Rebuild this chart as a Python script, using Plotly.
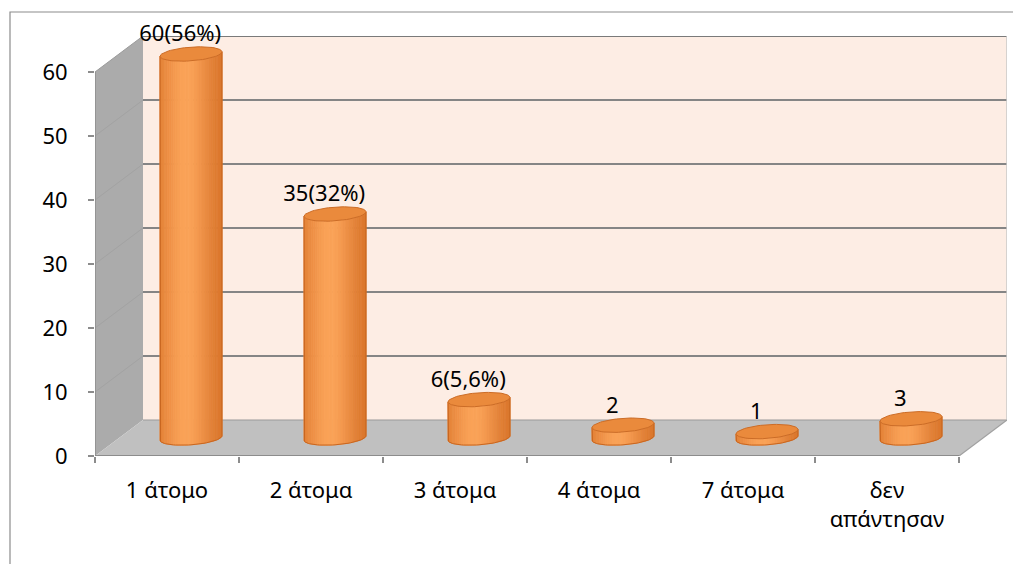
import numpy as np
import plotly.graph_objects as go

# ---------------- data ----------------
categories = ["1 άτομο", "2 άτομα", "3 άτομα", "4 άτομα", "7 άτομα", "δεν<br>απάντησαν"]
values = [60, 35, 6, 2, 1, 3]
value_labels = ["60(56%)", "35(32%)", "6(5,6%)", "2", "1", "3"]
y_ticks = [0, 10, 20, 30, 40, 50, 60]

# ---------------- 3D-look parameters ----------------
n = len(categories)
ymax = y_ticks[-1]
depth_x = 1 / 3        # depth offset in category units
depth_y = 5.625        # depth offset in value units
cyl_r = 0.204          # cylinder radius (category units)
cyl_depth = 0.2        # cylinder radius as fraction of the depth vector
NS = 36                # shading slices per cylinder

FONT = "Noto Sans"
FS = 22
x_lo, x_hi = -0.5, n - 0.5

fig = go.Figure()


def poly(xs, ys, fill, line_color=None, width=0):
    fig.add_trace(go.Scatter(
        x=list(xs) + [xs[0]], y=list(ys) + [ys[0]], mode="lines", fill="toself",
        fillcolor=fill, line=dict(color=line_color or fill, width=width),
        hoverinfo="skip", showlegend=False))


def lines(xs, ys, color, width):
    fig.add_trace(go.Scatter(x=xs, y=ys, mode="lines", line=dict(color=color, width=width),
                             hoverinfo="skip", showlegend=False))


# back wall
poly([x_lo + depth_x, x_hi + depth_x, x_hi + depth_x, x_lo + depth_x],
     [depth_y, depth_y, ymax + depth_y, ymax + depth_y], "#fdede4")
# side wall
poly([x_lo, x_lo, x_lo + depth_x, x_lo + depth_x],
     [0, ymax, ymax + depth_y, depth_y], "#ababab")
# faint diagonals on side wall
gx, gy = [], []
for t in y_ticks[1:-1]:
    gx += [x_lo, x_lo + depth_x, None]
    gy += [t, t + depth_y, None]
lines(gx, gy, "#a2a2a2", 1)
# floor
poly([x_lo, x_hi, x_hi + depth_x, x_lo + depth_x],
     [0, 0, depth_y, depth_y], "#c0c0c0")
# back gridlines
gx, gy = [], []
for t in y_ticks[1:-1]:
    gx += [x_lo + depth_x, x_hi + depth_x, None]
    gy += [t + depth_y, t + depth_y, None]
lines(gx, gy, "#858585", 1.8)
# back-wall / floor junction
lines([x_lo + depth_x, x_hi + depth_x], [depth_y, depth_y], "#9a9a9a", 1.2)
# top edge of back wall
lines([x_lo + depth_x, x_hi + depth_x], [ymax + depth_y, ymax + depth_y], "#7a7a7a", 2.2)
# right edge of back wall
lines([x_hi + depth_x, x_hi + depth_x], [depth_y, ymax + depth_y], "#c8c8c8", 1.5)
# floor right edge
lines([x_hi, x_hi + depth_x], [0, depth_y], "#a0a0a0", 1.2)
# side wall top edge
lines([x_lo, x_lo + depth_x], [ymax, ymax + depth_y], "#9a9a9a", 1)
# front axis lines
lines([x_lo, x_lo], [0, ymax], "#8c8c8c", 1.5)
lines([x_lo, x_hi], [0, 0], "#8c8c8c", 2)

# ---------------- cylinders ----------------
px = depth_x * cyl_depth
py = depth_y * cyl_depth
th0 = np.arctan2(px, cyl_r)
front = np.linspace(th0 + np.pi, th0 + 2 * np.pi, NS + 1)
half_w = np.hypot(cyl_r, px)
dark = np.array([214, 112, 38])
light = np.array([251, 163, 88])


def ex(cx, th):
    return cx + cyl_r * np.cos(th) + px * np.sin(th)


def ey(cy, th):
    return cy + py * np.sin(th)


for i, v in enumerate(values):
    cx = i + depth_x / 2
    by = depth_y / 2
    ty = depth_y / 2 + v
    for k in range(NS):
        a, b = front[k], front[k + 1]
        mid = 0.5 * (a + b)
        s = (ex(cx, mid) - (cx - half_w)) / (2 * half_w)
        inten = np.exp(-((s - 0.42) / 0.42) ** 2)
        col = dark + (light - dark) * inten
        c = "rgb(%d,%d,%d)" % tuple(col.astype(int))
        poly([ex(cx, a), ex(cx, b), ex(cx, b), ex(cx, a)],
             [ey(by, a), ey(by, b), ey(ty, b), ey(ty, a)], c, c, 0.8)
    # outline of body
    th = front
    ox = [ex(cx, front[0])] + list(ex(cx, th)) + [ex(cx, front[-1])]
    oy = [ey(ty, front[0])] + list(ey(by, th)) + [ey(ty, front[-1])]
    lines(ox, oy, "rgb(200,102,32)", 1)
    # top cap
    full = np.linspace(0, 2 * np.pi, 73)
    poly(list(ex(cx, full)), list(ey(ty, full)), "rgb(234,138,60)", "rgb(204,108,38)", 1)

# ---------------- value labels (anchored on top of each cap) ----------------
fig.add_trace(go.Scatter(
    x=[i + depth_x / 2 - 0.075 for i in range(n)],
    y=[v + depth_y / 2 + py for v in values],
    text=value_labels, mode="text", textposition="top center",
    textfont=dict(family=FONT, size=FS, color="#000000"),
    cliponaxis=False, hoverinfo="skip", showlegend=False))

# invisible trace for the boundary-tick axis
fig.add_trace(go.Scatter(x=[x_lo], y=[0], xaxis="x2", mode="markers",
                         marker=dict(opacity=0), hoverinfo="skip", showlegend=False))

# page body has an 8px margin; size the figure so the plot lands where the reference has it
OFF = 8
W, H = 1021 - OFF, 564 - OFF
L, R, T, B = 95 - OFF, 14, 36 - OFF, 108
fig.update_layout(
    width=W, height=H, autosize=False,
    margin=dict(l=L, r=R, t=T, b=B, pad=0),
    paper_bgcolor="white", plot_bgcolor="white",
    font=dict(family=FONT, size=FS, color="#000000"),
    xaxis=dict(range=[x_lo, x_hi + depth_x], tickmode="array",
               tickvals=list(range(n)), ticktext=categories, ticks="",
               showgrid=False, zeroline=False, showline=False,
               ticklabelstandoff=19, fixedrange=True,
               tickfont=dict(family=FONT, size=FS, color="#000000")),
    xaxis2=dict(range=[x_lo, x_hi + depth_x], overlaying="x", anchor="y", side="bottom",
                tickmode="array", tickvals=[x_lo + k for k in range(n + 1)],
                ticks="outside", ticklen=6, tickwidth=1.5, tickcolor="#8c8c8c",
                showticklabels=False, showgrid=False, zeroline=False, showline=False),
    yaxis=dict(range=[0, ymax + depth_y], tickmode="array", tickvals=y_ticks,
               ticks="outside", ticklen=6, tickwidth=1.5, tickcolor="#8c8c8c",
               showgrid=False, zeroline=False, showline=False,
               ticklabelstandoff=16, fixedrange=True,
               tickfont=dict(family=FONT, size=FS, color="#000000")),
    shapes=[dict(type="rect", xref="paper", yref="paper",
                 x0=(10 - 95) / (W - L - R), x1=1.05,
                 y0=-0.4, y1=(456 - 12) / (H - T - B),
                 line=dict(color="#8c8c8c", width=1.2), fillcolor="rgba(0,0,0,0)",
                 layer="below")],
)

fig.write_html("out.html")
